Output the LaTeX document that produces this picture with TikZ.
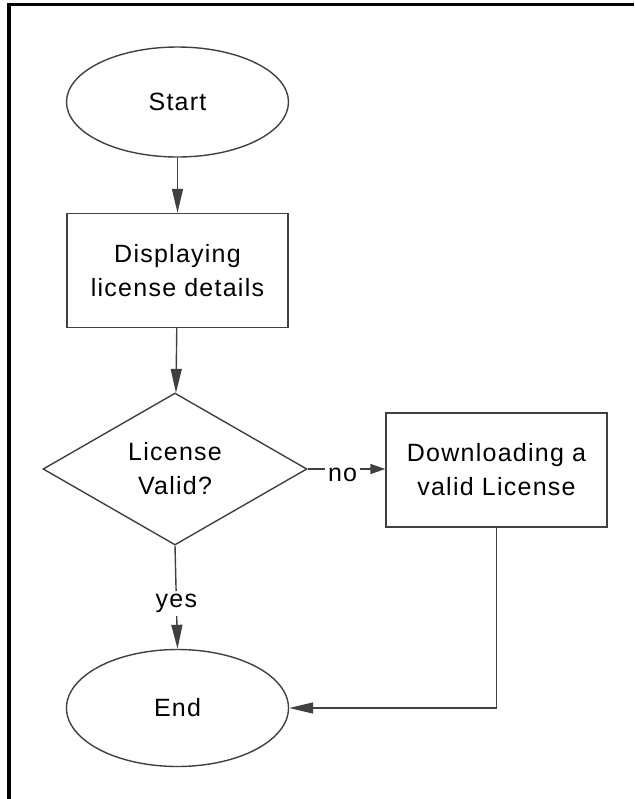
\documentclass[tikz,border=0pt]{standalone}
\usepackage{fontspec}
\setmainfont{Liberation Sans}[LetterSpace=5]
\usetikzlibrary{arrows.meta,shapes.geometric}

\begin{document}
\begin{tikzpicture}[x=0.5pt,y=-0.5pt,
    flowline/.style={draw=black!75,line width=0.7pt},
    flowarrow/.style={flowline,-{Triangle[length=12pt,width=5.5pt]}},
    termnode/.style={flowline,ellipse,inner sep=0pt,minimum width=111pt,
          minimum height=55pt,font=\fontsize{12.5}{17}\selectfont},
    procbox/.style={flowline,rectangle,inner sep=0pt,minimum width=110.5pt,
          minimum height=57pt,align=center,font=\fontsize{12.5}{17}\selectfont},
    decnode/.style={flowline,diamond,aspect=1.7,inner sep=0pt,minimum width=132pt,
          minimum height=76pt,align=center,font=\fontsize{12.5}{17}\selectfont},
    branchlabel/.style={fill=white,inner sep=1.5pt,font=\fontsize{12.5}{17}\selectfont}]
  \useasboundingbox (0,0) rectangle (634,799);

  %% Frame (top and left edges only)
  \draw[line width=1.6pt] (8,4.5) -- (634,4.5);
  \draw[line width=1.6pt] (9,3) -- (9,799);

  %% Nodes
  \node[termnode] (start) at (177.5,102) {Start};
  \node[procbox] (display) at (177.5,270.5) {Displaying\\license details};
  \node[decnode] (valid) at (175,469) {License\\Valid?};
  \node[procbox] (download) at (496.5,470) {Downloading a\\valid License};
  \node[termnode,minimum height=58.5pt] (finish) at (177.5,708) {End};

  %% Connectors
  \draw[flowarrow] (start) -- (display);
  \draw[flowarrow] (display) -- (valid);
  \draw[flowarrow,-{Triangle[length=7.5pt,width=5pt]}] (valid.east) -- node[branchlabel,pos=0.45,yshift=-3pt] {no} (download.west |- valid.east);
  \draw[flowarrow] (valid.south) -- node[branchlabel,pos=0.56] {yes} (finish.north);
  \draw[flowarrow] (download.south) |- (finish.east);
\end{tikzpicture}
\end{document}
